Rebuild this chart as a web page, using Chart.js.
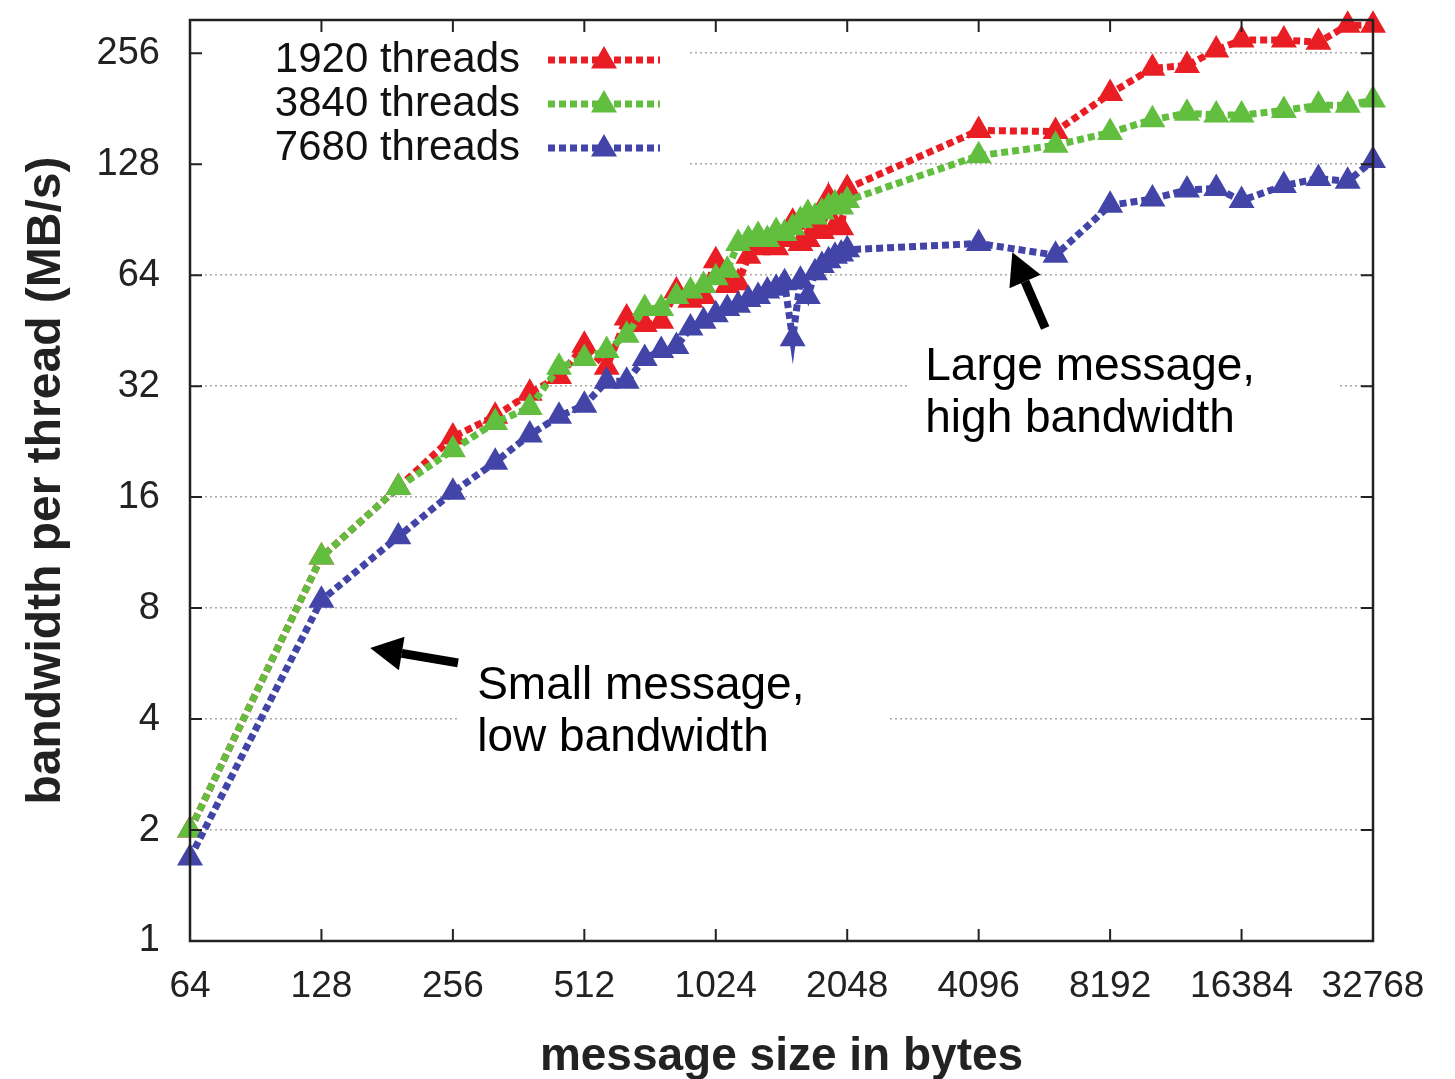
<!DOCTYPE html>
<html>
<head>
<meta charset="utf-8">
<script src="https://cdn.jsdelivr.net/npm/chart.js@4.4.1/dist/chart.umd.min.js"></script>
<style>
  html, body { margin: 0; padding: 0; background: #fff; }
</style>
</head>
<body>
<canvas id="myChart" width="1455" height="1079"></canvas>
<script>
// message sizes (bytes)
const sizes = [64,128,192,256,320,384,448,512,576,640,704,768,832,896,960,1024,
               1088,1152,1216,1280,1344,1408,1472,1536,1600,1664,1728,1792,1856,1920,1984,2048,
               4096,6144,8192,10240,12288,14336,16384,20480,24576,28672,32768];

// bandwidth per thread (MB/s)
const bw1920 = [2.0,11.0,17.0,23.3,26.5,30.6,34,41.3,36,49,47,48,58,54.7,56,70,
                60,61,72,76,77,76,80,89,78,80,85,84,104,87,86,110,
                158,157,199,233,237,261,278,278,274,305,305];
const bw3840 = [2.0,11.0,17.0,21.5,25.5,28.0,36,38,40,44,52,52,56,58,60,63,
                66,78,80,82,80,84,83,86,90,94,92,95,98,100,98,102,
                135,144,156,169,176,174,174,179,185,185,191];
const bw7680 = [1.68,8.4,12.5,16.5,19.9,23.6,26.5,28.4,33,33,38,40,41,46,48,50,
                52,53,55,56,58,59,61,43,62,56,65,68,70,72,73,75,
                78,72.5,99,103,109,110,102,112,117,115,131];

const seriesNames = ['1920 threads','3840 threads','7680 threads'];
const xTicks = [64,128,256,512,1024,2048,4096,8192,16384,32768];
const yTicks = [1,2,4,8,16,32,64,128,256];

const red = 'rgb(232,30,36)';
const green = 'rgb(98,190,62)';
const blue = 'rgb(66,68,168)';

function pts(ys){
  const out = [];
  for (let i=0;i<sizes.length;i++){
    out.push({x:sizes[i], y:ys[i]});
  }
  return out;
}

function lineSet(label, ys, color, order){
  return {
    label: label,
    data: pts(ys),
    borderColor: color,
    backgroundColor: color,
    borderWidth: 7,
    borderDash: [7,4],
    pointStyle: 'triangle',
    pointRadius: 15,
    pointBorderWidth: 0,
    pointBackgroundColor: color,
    tension: 0,
    clip: false,
    order: order
  };
}

// text notes with arrows, placed in data units
const notes = [
  {lines:['Small message,','low bandwidth'], x:291, y:4.92, tail:[263,5.68], head:[165.5,6.23]},
  {lines:['Large message,','high bandwidth'], x:3091, y:36.0, tail:[5818,46], head:[4891,73.9]}
];

function triangle(ctx, x, y, r){
  ctx.beginPath();
  ctx.moveTo(x, y - r);
  ctx.lineTo(x + r*0.866, y + r*0.5);
  ctx.lineTo(x - r*0.866, y + r*0.5);
  ctx.closePath();
  ctx.fill();
}

const extras = {
  id: 'extras',
  beforeDatasetsDraw(chart){
    const ctx = chart.ctx, a = chart.chartArea;
    const xs = chart.scales.x, ys = chart.scales.y;
    ctx.save();
    ctx.fillStyle = '#fff';
    // blank the grid behind legend and notes
    ctx.fillRect(a.left + 3, a.top + 3, 496, 160);
    notes.forEach(n => {
      const px = xs.getPixelForValue(n.x), py = ys.getPixelForValue(n.y);
      ctx.fillRect(px - 18, py - 36, 430, 52 + 72);
    });
    ctx.restore();
  },
  afterDraw(chart){
    const ctx = chart.ctx, a = chart.chartArea;
    const xs = chart.scales.x, ys = chart.scales.y;
    ctx.save();
    // inward tick marks
    ctx.strokeStyle = '#222';
    ctx.lineWidth = 2;
    xTicks.forEach(v => {
      const px = xs.getPixelForValue(v);
      ctx.beginPath();
      ctx.moveTo(px, a.bottom); ctx.lineTo(px, a.bottom - 12);
      ctx.moveTo(px, a.top); ctx.lineTo(px, a.top + 12);
      ctx.stroke();
    });
    yTicks.forEach(v => {
      const py = ys.getPixelForValue(v);
      ctx.beginPath();
      ctx.moveTo(a.left, py); ctx.lineTo(a.left + 12, py);
      ctx.moveTo(a.right, py); ctx.lineTo(a.right - 12, py);
      ctx.stroke();
    });
    // frame
    ctx.lineWidth = 2.5;
    ctx.strokeRect(a.left, a.top, a.right - a.left, a.bottom - a.top);

    // legend
    const sets = chart.data.datasets;
    ctx.font = '42px "Liberation Sans", Arial, sans-serif';
    ctx.textAlign = 'right';
    ctx.textBaseline = 'middle';
    sets.forEach((ds, i) => {
      const y = a.top + 40 + i*44;
      ctx.fillStyle = '#111';
      ctx.fillText(ds.label, a.left + 330, y);
      ctx.strokeStyle = ds.borderColor;
      ctx.lineWidth = 7;
      ctx.setLineDash([7,4]);
      ctx.beginPath();
      ctx.moveTo(a.left + 358, y); ctx.lineTo(a.left + 470, y);
      ctx.stroke();
      ctx.setLineDash([]);
      ctx.fillStyle = ds.borderColor;
      triangle(ctx, a.left + 414, y + 1, 15);
    });

    // notes and arrows
    ctx.textAlign = 'left';
    ctx.font = '46px "Liberation Sans", Arial, sans-serif';
    ctx.fillStyle = '#000';
    notes.forEach(n => {
      const px = xs.getPixelForValue(n.x), py = ys.getPixelForValue(n.y);
      n.lines.forEach((t, j) => ctx.fillText(t, px, py + j*52));
      const tx = xs.getPixelForValue(n.tail[0]), ty = ys.getPixelForValue(n.tail[1]);
      const hx = xs.getPixelForValue(n.head[0]), hy = ys.getPixelForValue(n.head[1]);
      const ang = Math.atan2(hy - ty, hx - tx);
      const hl = 32, hw = 17;
      const bx = hx - Math.cos(ang)*hl, by = hy - Math.sin(ang)*hl;
      ctx.strokeStyle = '#000';
      ctx.lineWidth = 9;
      ctx.beginPath();
      ctx.moveTo(tx, ty); ctx.lineTo(bx, by);
      ctx.stroke();
      ctx.beginPath();
      ctx.moveTo(hx, hy);
      ctx.lineTo(bx - Math.sin(ang)*hw, by + Math.cos(ang)*hw);
      ctx.lineTo(bx + Math.sin(ang)*hw, by - Math.cos(ang)*hw);
      ctx.closePath();
      ctx.fill();
    });
    ctx.restore();
  }
};

const ctx = document.getElementById('myChart').getContext('2d');
const bwChart = new Chart(ctx, {
  type: 'line',
  data: {
    datasets: [
      lineSet(seriesNames[0], bw1920, red, 3),
      lineSet(seriesNames[1], bw3840, green, 2),
      lineSet(seriesNames[2], bw7680, blue, 1)
    ]
  },
  options: {
    responsive: false,
    animation: false,
    layout: { padding: { left: 0, right: 82, top: 20, bottom: 0 } },
    scales: {
      x: {
        type: 'logarithmic',
        min: 64,
        max: 32768,
        afterBuildTicks: s => { s.ticks = xTicks.map(v => ({value: v})); },
        afterFit: s => { s.height = 138; s.paddingLeft = 0; s.paddingRight = 0; },
        grid: { display: false, drawTicks: false },
        border: { display: false },
        ticks: {
          autoSkip: false,
          maxRotation: 0,
          padding: 24,
          color: '#222',
          font: { family: '"Liberation Sans", Arial, sans-serif', size: 37 },
          callback: v => String(v)
        },
        title: {
          display: true,
          text: 'message size in bytes',
          color: '#222',
          padding: { top: 0, bottom: -6 },
          font: { family: '"Liberation Sans", Arial, sans-serif', size: 46, weight: 'bold' }
        }
      },
      y: {
        type: 'logarithmic',
        min: 1,
        max: 315,
        afterBuildTicks: s => { s.ticks = yTicks.map(v => ({value: v})); },
        afterFit: s => { s.width = 190; s.paddingTop = 0; s.paddingBottom = 0; },
        grid: { color: '#a8a8a8', lineWidth: 1.5, drawTicks: false },
        border: { display: false, dash: [2,3] },
        ticks: {
          autoSkip: false,
          padding: 30,
          color: '#222',
          font: { family: '"Liberation Sans", Arial, sans-serif', size: 38 },
          callback: v => String(v)
        },
        title: {
          display: true,
          text: 'bandwidth per thread (MB/s)',
          color: '#222',
          padding: { top: 18, bottom: 18 },
          font: { family: '"Liberation Sans", Arial, sans-serif', size: 48, weight: 'bold' }
        }
      }
    },
    plugins: {
      legend: { display: false },
      tooltip: { enabled: false }
    }
  },
  plugins: [extras]
});
</script>
</body>
</html>
